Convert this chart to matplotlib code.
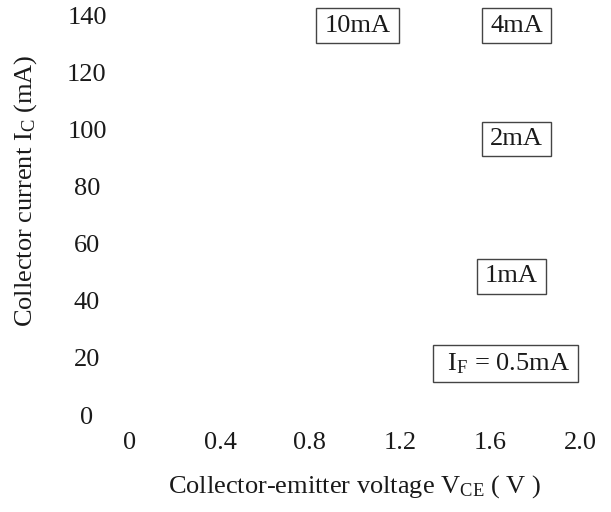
import matplotlib
matplotlib.use("Agg")
import matplotlib.pyplot as plt

# axis ticks
x_ticks = [0, 0.4, 0.8, 1.2, 1.6, 2.0]
x_labels = ["0", "0.4", "0.8", "1.2", "1.6", "2.0"]
y_ticks = [0, 20, 40, 60, 80, 100, 120, 140]
y_labels = ["0", "20", "40", "60", "80", "100", "120", "140"]

# forward current labels (curve tags) and where they sit
curve_labels = ["10mA", "4mA", "2mA", "1mA", r" I$_{\rm F}$ = 0.5mA "]
label_x = [1.013, 1.718, 1.718, 1.696, 1.669]
label_y = [136.3, 136.3, 96.6, 48.5, 17.9]

plt.rcParams["font.family"] = ["Liberation Serif", "DejaVu Serif"]
plt.rcParams["mathtext.fontset"] = "custom"
plt.rcParams["mathtext.rm"] = "Liberation Serif"
plt.rcParams["mathtext.it"] = "Liberation Serif:italic"
plt.rcParams["font.size"] = 19
ink = "#1a1a1a"

fig = plt.figure(figsize=(6.11, 5.12), dpi=100)
ax = fig.add_axes([130 / 611, (512 - 415) / 512, 450 / 611, 400 / 512])
ax.set_xlim(0, 2.0)
ax.set_ylim(0, 140)

for s in ax.spines.values():
    s.set_visible(False)

ax.set_xticks(x_ticks)
ax.set_xticklabels(x_labels, color=ink)
ax.set_yticks(y_ticks)
ax.set_yticklabels(y_labels, color=ink, ha="center")
ax.tick_params(axis="x", length=0, pad=12)
ax.tick_params(axis="y", length=0, pad=31)

for t, x, y in zip(curve_labels, label_x, label_y):
    ax.text(x, y, t, ha="center", va="center", color=ink,
            bbox=dict(boxstyle="square,pad=0.32", mutation_aspect=0.72,
                      fc="white", ec="#444444", lw=1.0))

ax.set_xlabel(r"Collector-emitter voltage V$_{\rm CE}$ ( V )", color=ink, va="center")
ax.xaxis.set_label_coords(0.5, -0.18)
ax.set_ylabel(r"Collector current I$_{\rm C}$ (mA)", color=ink, va="center", ha="center")
ax.yaxis.set_label_coords(-0.231, 0.56)

fig.savefig("out.png", dpi=100)
